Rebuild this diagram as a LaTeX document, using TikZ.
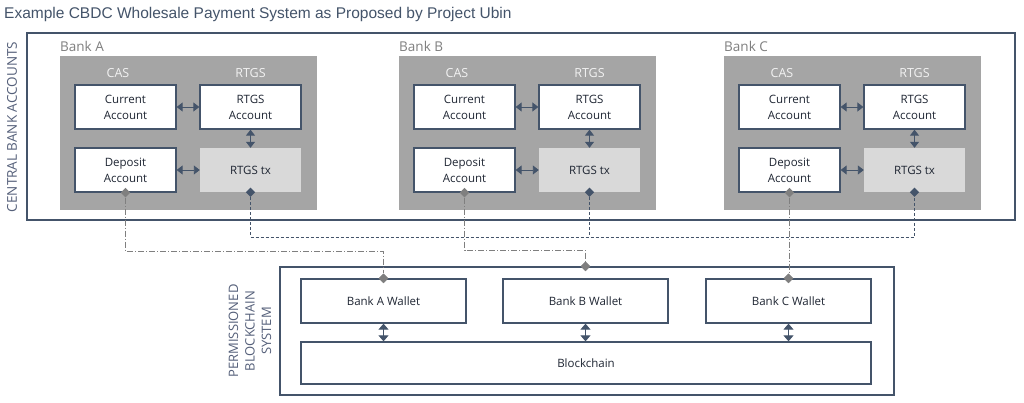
\documentclass[tikz,border=0pt]{standalone}
\usepackage{fontspec}
\setmainfont{Open Sans}
\newfontfamily\titlefont{Liberation Sans}
\usetikzlibrary{shapes.geometric,arrows.meta}
\definecolor{navy}{HTML}{44546A}
\definecolor{dnavy}{HTML}{1F2633}
\definecolor{gbox}{HTML}{A5A5A5}
\definecolor{ltx}{HTML}{D9D9D9}
\definecolor{dgray}{HTML}{7F7F7F}
\definecolor{lbl}{HTML}{7F7F7F}
\definecolor{vtxt}{HTML}{55607A}
\tikzset{
  acct/.style={draw=navy, line width=1.3pt, fill=white, text=dnavy,
    font=\fontsize{11.5}{16}\selectfont, align=center, inner sep=0pt,
    minimum width=101pt, minimum height=44pt},
  txbox/.style={fill=ltx, text=dnavy, font=\fontsize{11.5}{16}\selectfont,
    inner sep=0pt, minimum width=101pt, minimum height=44pt},
  graybox/.style={fill=gbox, inner sep=0pt, minimum width=257pt, minimum height=154pt},
  banklbl/.style={text=lbl, font=\fontsize{13.5}{15}\selectfont, anchor=west, inner sep=0pt},
  collbl/.style={text=white!95!black, font=\fontsize{12.5}{14}\selectfont, inner sep=0pt},
  wallet/.style={draw=navy, line width=1.3pt, fill=white, text=dnavy,
    font=\fontsize{11.5}{14}\selectfont, inner sep=0pt,
    minimum width=165pt, minimum height=44pt},
  dbl/.style={draw=navy, line width=0.9pt, {Triangle[length=6pt,width=9pt]}-{Triangle[length=6pt,width=9pt]}},
  vdbl/.style={draw=navy, line width=0.9pt, {Triangle[length=6pt,width=10pt]}-{Triangle[length=6pt,width=10pt]}},
  gdiam/.style={diamond, fill=dgray, inner sep=0pt, minimum width=9.5pt, minimum height=9.5pt},
  ndiam/.style={diamond, fill=navy, inner sep=0pt, minimum width=9.5pt, minimum height=9.5pt},
  ddline/.style={draw=dgray, line width=0.8pt, dash pattern=on 6pt off 2pt on 1pt off 2pt},
  dline/.style={draw=navy, line width=0.8pt, dash pattern=on 3pt off 2pt},
  vtext/.style={text=vtxt, rotate=90, align=center, font=\fontsize{13.5}{16}\selectfont, inner sep=0pt},
  frame/.style={draw=navy, line width=1.3pt},
}
\begin{document}
\begin{tikzpicture}[x=1pt,y=-1pt]
\useasboundingbox (0,0) rectangle (1024,403);
\fill[white] (0,0) rectangle (1024,403);

\node[anchor=west, inner sep=0pt, text=navy, font=\titlefont\fontsize{15.5}{17}\selectfont] (title) at (4,14) {Example CBDC Wholesale Payment System as Proposed by Project Ubin};

% outer central bank frame
\node[frame, inner sep=0pt, minimum width=988pt, minimum height=187pt] (cba) at (521,126.5) {};
\node[vtext] (cbalbl) at (12,127) {CENTRAL BANK ACCOUNTS};

% banks
\foreach \n/\gx/\L in {A/60/Bank A, B/399/Bank B, C/724/Bank C}{
  \node[banklbl] (lbl\n) at (\gx,46) {\L};
  \node[graybox] (g\n) at (\gx+128.5,133) {};
  \node[collbl] (cas\n) at (\gx+58,73) {CAS};
  \node[collbl] (rtgs\n) at (\gx+190.5,73) {RTGS};
  \node[acct] (cur\n) at (\gx+65.5,107) {Current\\Account};
  \node[acct] (ra\n) at (\gx+190.5,107) {RTGS\\Account};
  \node[acct] (dep\n) at (\gx+65.5,170) {Deposit\\Account};
  \node[txbox] (tx\n) at (\gx+190.5,170) {RTGS tx};
  \draw[dbl] (cur\n.east) -- (ra\n.west);
  \draw[dbl] (dep\n.east) -- (tx\n.west);
  \draw[dbl] (ra\n.south) -- (tx\n.north);
}

% blockchain system
\node[frame, inner sep=0pt, minimum width=614pt, minimum height=128pt] (pbs) at (587,331) {};
\node[vtext, font=\fontsize{13}{16.5}\selectfont] (pbslbl) at (250,331) {PERMISSIONED\\BLOCKCHAIN\\SYSTEM};
\node[wallet] (wA) at (383.5,301) {Bank A Wallet};
\node[wallet] (wB) at (585.5,301) {Bank B Wallet};
\node[wallet] (wC) at (788.5,301) {Bank C Wallet};
\node[wallet, minimum width=570pt, minimum height=42pt] (bc) at (586,363) {Blockchain};
\draw[vdbl] (wA.south) -- (wA.south |- bc.north);
\draw[vdbl] (wB.south) -- (wB.south |- bc.north);
\draw[vdbl] (wC.south) -- (wC.south |- bc.north);

% diamonds
\node[gdiam] (ddA) at (depA.south) {};
\node[gdiam] (ddB) at (depB.south) {};
\node[gdiam] (ddC) at (depC.south) {};
\node[ndiam] (dtA) at (txA.south) {};
\node[ndiam] (dtB) at (txB.south) {};
\node[ndiam] (dtC) at (txC.south) {};
\node[gdiam] (dwA) at (wA.north) {};
\node[gdiam] (dwB) at (wB.north |- pbs.north) {};
\node[gdiam] (dwC) at (wC.north) {};

% junctions
\coordinate (kA) at (125.5,251);
\coordinate (kB) at (464.5,250);
\coordinate (rA) at (250.5,237);
\coordinate (rC) at (914.5,237);
\coordinate (rB) at (589.5,237);

% connectors
\draw[ddline] (ddA) -- (kA) -| (dwA);
\draw[ddline] (ddB) -- (kB) -| (dwB);
\draw[ddline] (ddC) -- (ddC |- dwC.north);
\draw[dline] (dtA) -- (rA) -- (rC) -- (dtC);
\draw[dline] (dtB) -- (rB);
\node[gdiam] at (dwA) {};
\node[gdiam] at (dwB) {};
\node[gdiam] at (dwC) {};
\end{tikzpicture}
\end{document}
